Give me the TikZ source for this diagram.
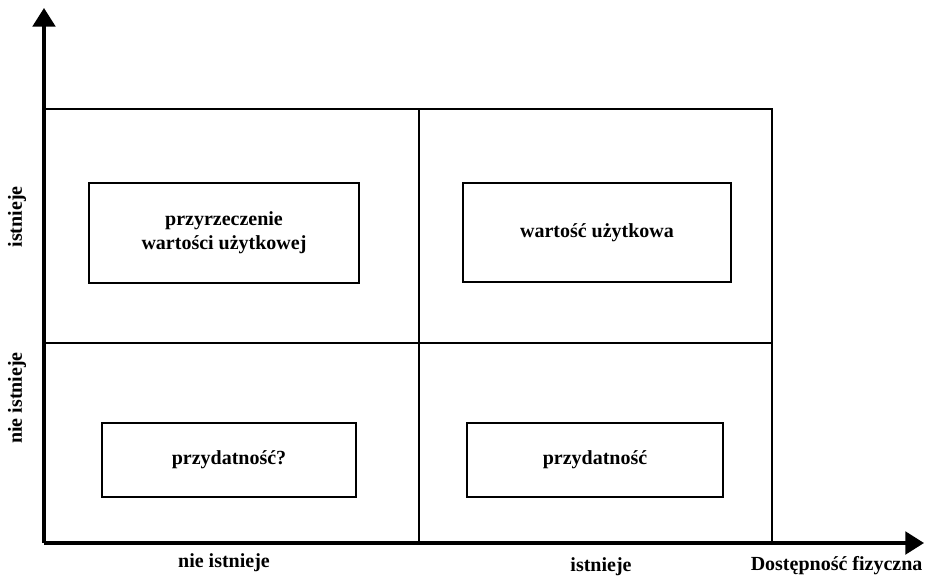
\documentclass[tikz,border=0pt]{standalone}
\usepackage{fontspec}
\setmainfont{Liberation Serif}
\usetikzlibrary{arrows.meta}
\tikzset{
    mynode/.style={font=\fontsize{15}{18}\selectfont\bfseries},
    mybox/.style={mynode,draw,line width=2pt,align=center,inner sep=0pt},
    myaxis/.style={-{Triangle[length=14pt,width=17pt]},line width=2.4pt},
    mygrid/.style={line width=2pt}
}

\begin{document}
\begin{tikzpicture}[x=0.75pt,y=-0.75pt]
        \useasboundingbox (0,0) rectangle (925,583);

        % axes
        \coordinate (o) at (44,543);
        \coordinate (ytop) at (44,8);
        \coordinate (xend) at (924,543);
        \draw[myaxis] (o) -- (ytop);
        \draw[myaxis] (o) -- (xend);

        % grid
        \coordinate (tl) at (44,109);
        \coordinate (tm) at (419,109);
        \coordinate (tr) at (772,109);
        \coordinate (ml) at (44,343);
        \coordinate (mr) at (772,343);
        \coordinate (bm) at (419,543);
        \coordinate (br) at (772,543);
        \draw[mygrid] (tl) -- (tr) -- (br);
        \draw[mygrid] (tm) -- (bm);
        \draw[mygrid] (ml) -- (mr);

        % boxes
        \node[mybox,minimum width=202.5pt,minimum height=75pt] (promise) at (224,233) {przyrzeczenie\\wartości użytkowej};
        \node[mybox,minimum width=201pt,minimum height=74.25pt] (value) at (597,232.5) {wartość użytkowa};
        \node[mybox,minimum width=190.5pt,minimum height=55.5pt] (useq) at (229,460) {przydatność?};
        \node[mybox,minimum width=192pt,minimum height=55.5pt] (use) at (595,460) {przydatność};

        % labels
        \node[mynode,rotate=90] (yyes) at (17,217) {istnieje};
        \node[mynode,rotate=90] (yno) at (17,398) {nie istnieje};
        \node[mynode,anchor=base] (xno) at (224,567) {nie istnieje};
        \node[mynode,anchor=base] (xyes) at (601,571) {istnieje};
        \node[mynode,anchor=base east,inner sep=1pt] (xname) at (924,570) {Dostępność fizyczna};
\end{tikzpicture}
\end{document}
